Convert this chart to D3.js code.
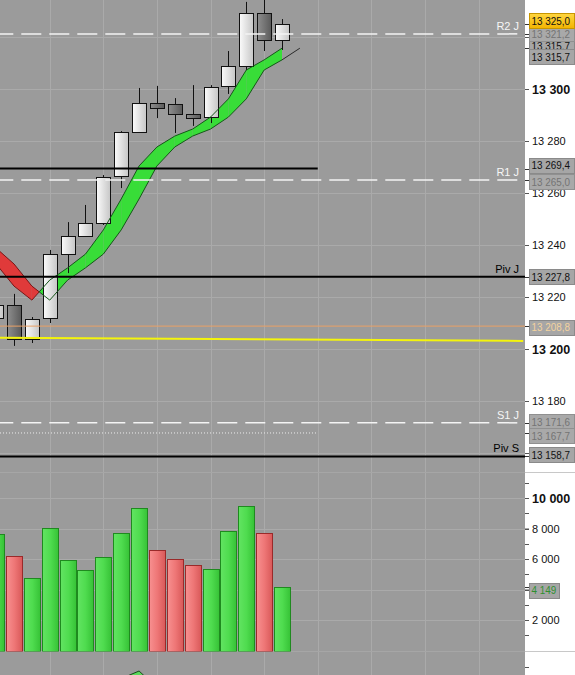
<!DOCTYPE html>
<html><head><meta charset="utf-8">
<script src="https://cdn.jsdelivr.net/npm/d3@7"></script>
<style>html,body{margin:0;padding:0;background:#fff;}svg{display:block;font-family:"Liberation Sans",Arial,sans-serif;}</style>
</head><body><svg id="c" width="575" height="675"></svg>
<script>
// ---------- DATA ----------
const candleIdx = [-1,0,1,2,3,4,5,6,7,8,9,10,11,12,13,14,15];
const opens  = [13211.9,13216.9,13203.8,13211.9,13236.5,13243.5,13248.5,13266.5,13283.5,13294.6,13294.2,13290.4,13289.2,13301.2,13308.8,13329.2,13318.8];
const highs  = [13218.5,13221.2,13212.3,13238.1,13248.8,13255.4,13266.9,13283.8,13300.4,13301.2,13296.5,13301.5,13301.5,13314.6,13333.5,13337.0,13326.9];
const lows   = [13210.0,13201.2,13202.3,13210.0,13229.2,13243.1,13247.7,13261.9,13283.3,13288.8,13283.1,13285.8,13286.9,13298.1,13307.3,13314.6,13315.0];
const closes = [13216.9,13203.8,13211.5,13236.5,13243.5,13248.5,13266.2,13283.5,13294.6,13292.7,13290.4,13288.8,13300.8,13308.8,13329.2,13318.8,13325.0];
const volumes = [7640,6220,4730,8010,5910,5260,6110,7680,9320,6590,5980,5590,5320,7810,9450,7680,4149];

const bandIdx = [-2,-1,0,1,2,3,4,5,6,7,8,9,10,11,12,13,14,15];
const bandValues = [13238.8,13232.7,13224.2,13218.8,13226.5,13231.2,13236.5,13245.8,13257.7,13270.4,13277.7,13281.9,13284.6,13289.2,13296.2,13307.3,13311.2,13315.7];

const oscIdx = [5,6,7,8,9];
const oscValues = [20,44.6,60.4,25.6,10];

// horizontal levels
const levelNames  = ["R2 J","","R1 J","Piv J","","S1 J","","Piv S"];
const levelValues = [13321.2,13269.4,13265.0,13227.8,13208.8,13171.6,13167.7,13158.7];
const levelKinds  = ["dash","solid","dash","solid","orange","dash","dot","solid"];
const levelEndIdx = [null,17,null,null,null,null,17,null];

const trendIdx = [-1,28.5];
const trendValues = [13204.3,13203.1];

// right-side value tags
const tagValues = [13315.7,13321.2,13269.4,13265.0,13227.8,13208.8,13171.6,13167.7,13158.7,13315.7,13325.0];
const tagKinds  = ["black","grey","black","grey","black","orange","grey","grey","black","black","yellow"];
const tagNudge  = [-2.2,0,-3.5,1.5,0,1,-1,3,-1.5,8.3,-3.5];

const priceGrid = [13160,13180,13200,13220,13240,13260,13280,13300,13320];
const priceTicks = [13180,13200,13220,13240,13260,13280,13300];
const volGrid = [2000,4000,6000,8000,10000];
const volTicks = [2000,6000,8000,10000];
const volMinor = [1000,2000,3000,4000,5000,6000,7000,8000,9000,10000,11000];
const volLast = 4149;

// ---------- SETUP ----------
const svg = d3.select("#c");
const plotR = 525;
const pP = {top:0,bottom:473}, pV = {top:473,bottom:651.5}, pO = {top:652,bottom:675};
const x = d3.scaleLinear().domain([0,15]).range([14,282]);
const yP = d3.scaleLinear().domain([13160,13300]).range([453,89]);
const yV = d3.scaleLinear().domain([0,10000]).range([650.5,498]);
const yO = d3.scaleLinear().domain([0,100]).range([700,652]);
const loc = d3.formatLocale({decimal:",",thousands:" ",grouping:[3],currency:["",""]});
const fTick = loc.format(",d"), fVal = loc.format(",.1f");

const defs = svg.append("defs");
function hgrad(id, stops){
  const g = defs.append("linearGradient").attr("id",id).attr("x1","0").attr("x2","1").attr("y1","0").attr("y2","0");
  stops.forEach(([o,c])=>g.append("stop").attr("offset",o).attr("stop-color",c));
}
hgrad("gLight",[["0%","#fbfbfb"],["100%","#c6c6c6"]]);
hgrad("gDark",[["0%","#8e8e8e"],["100%","#5a5a5a"]]);
hgrad("gGreen",[["0%","#62e462"],["50%","#4fdc4f"],["100%","#36c236"]]);
hgrad("gRed",[["0%","#f79090"],["50%","#ee7676"],["100%","#d85858"]]);
const yg = defs.append("linearGradient").attr("id","gYel").attr("x1","0").attr("x2","0").attr("y1","0").attr("y2","1");
yg.append("stop").attr("offset","0%").attr("stop-color","#ffd640");
yg.append("stop").attr("offset","100%").attr("stop-color","#f2b400");
[["clipP",pP],["clipV",pV],["clipO",pO]].forEach(([id,p])=>{
  defs.append("clipPath").attr("id",id).append("rect").attr("x",0).attr("y",p.top).attr("width",plotR).attr("height",p.bottom-p.top);
});

// background
svg.append("rect").attr("x",0).attr("y",0).attr("width",plotR).attr("height",675).attr("fill","#9b9b9b");

// grid
const grid = svg.append("g").attr("stroke","#aaaaaa").attr("stroke-width",1);
const vGridIdx = d3.range(2,28,3);
grid.selectAll(".vg").data(vGridIdx).join("line")
  .attr("x1",d=>Math.round(x(d))+0.5).attr("x2",d=>Math.round(x(d))+0.5).attr("y1",0).attr("y2",675);
grid.selectAll(".hg").data(priceGrid).join("line")
  .attr("x1",0).attr("x2",plotR).attr("y1",d=>Math.round(yP(d))+0.5).attr("y2",d=>Math.round(yP(d))+0.5);
grid.selectAll(".hv").data(volGrid).join("line")
  .attr("x1",0).attr("x2",plotR).attr("y1",d=>Math.round(yV(d))+0.5).attr("y2",d=>Math.round(yV(d))+0.5);
grid.selectAll(".sep").data([pV.top,pO.top]).join("line")
  .attr("x1",0).attr("x2",plotR).attr("y1",d=>d-0.5).attr("y2",d=>d-0.5).attr("stroke","#a6a6a6");

// ---------- PRICE PANE ----------
const gP = svg.append("g").attr("clip-path","url(#clipP)");
const M = i => bandValues[i - bandIdx[0]];
const bandFill = gP.append("g");
const bandLines = [];
const GREEN="#38dd38", RED="#e03a3a", GREENL="#17561a", REDL="#7a1515";
for(let i=-1;i<15;i++){
  const U0=M(i),U1=M(i+1),D0=M(i-1),D1=M(i);
  const a0=U0-D0, a1=U1-D1;
  const X0=x(i),X1=x(i+1);
  if((a0>=0)===(a1>=0)){
    const c = a0>=0?GREEN:RED;
    bandFill.append("path").attr("d",d3.line()([[X0,yP(U0)],[X1,yP(U1)],[X1,yP(D1)],[X0,yP(D0)]])).attr("fill",c);
    bandLines.push({p:[[X0,yP(U0)],[X1,yP(U1)]],c:a0>=0?GREENL:REDL});
    bandLines.push({p:[[X0,yP(D0)],[X1,yP(D1)]],c:a0>=0?GREENL:REDL});
  } else {
    const t=a0/(a0-a1);
    const xc=X0+t*(X1-X0), pc=U0+t*(U1-U0);
    bandFill.append("path").attr("d",d3.line()([[X0,yP(U0)],[xc,yP(pc)],[X0,yP(D0)]])).attr("fill",a0>=0?GREEN:RED);
    bandFill.append("path").attr("d",d3.line()([[xc,yP(pc)],[X1,yP(U1)],[X1,yP(D1)]])).attr("fill",a1>=0?GREEN:RED);
    bandLines.push({p:[[X0,yP(U0)],[xc,yP(pc)]],c:a0>=0?GREENL:REDL});
    bandLines.push({p:[[X0,yP(D0)],[xc,yP(pc)]],c:a0>=0?GREENL:REDL});
    bandLines.push({p:[[xc,yP(pc)],[X1,yP(U1)]],c:a1>=0?GREENL:REDL});
    bandLines.push({p:[[xc,yP(pc)],[X1,yP(D1)]],c:a1>=0?GREENL:REDL});
  }
}
bandLines.push({p:[[x(15),yP(M(14))],[x(16),yP(M(15))]],c:"#2a2a2a"});

// candles
const candles = candleIdx.map((d,k)=>({i:d,o:opens[k],h:highs[k],l:lows[k],c:closes[k]}));
const gC = gP.append("g");
gC.selectAll(".wick").data(candles).join("line")
  .attr("x1",d=>Math.round(x(d.i))+0.5).attr("x2",d=>Math.round(x(d.i))+0.5)
  .attr("y1",d=>yP(d.h)).attr("y2",d=>yP(d.l)).attr("stroke","#111").attr("stroke-width",1);
gC.selectAll(".body").data(candles).join("rect")
  .attr("x",d=>Math.round(x(d.i))-6.5).attr("width",14)
  .attr("y",d=>Math.round(yP(Math.max(d.o,d.c)))+0.5)
  .attr("height",d=>Math.max(1,Math.round(yP(Math.min(d.o,d.c)))-Math.round(yP(Math.max(d.o,d.c)))))
  .attr("fill",d=>d.c>=d.o?"url(#gLight)":"url(#gDark)").attr("stroke","#111").attr("stroke-width",1);

gP.append("g").selectAll("path").data(bandLines).join("path")
  .attr("d",d=>d3.line()(d.p)).attr("fill","none").attr("stroke",d=>d.c).attr("stroke-width",1);

// levels
const gL = gP.append("g");
levelValues.forEach((v,k)=>{
  const yy = yP(v);
  const kind = levelKinds[k];
  const x2 = levelEndIdx[k]!==null ? x(levelEndIdx[k]) : (kind==="dash"?519:plotR);
  const ln = gL.append("line").attr("x1",0).attr("x2",x2).attr("y1",yy).attr("y2",yy);
  if(kind==="dash") ln.attr("stroke","#f4f4f4").attr("stroke-width",1.5).attr("stroke-dasharray","20,8").attr("stroke-dashoffset",6.7);
  else if(kind==="solid") ln.attr("stroke","#000").attr("stroke-width",2);
  else if(kind==="orange") ln.attr("stroke","#e9a066").attr("stroke-width",1);
  else if(kind==="dot") ln.attr("stroke","#ececec").attr("stroke-width",1).attr("stroke-dasharray","1,2");
  if(levelNames[k]){
    gL.append("text").attr("x",519).attr("y",yy-4).attr("text-anchor","end").attr("font-size",11)
      .attr("fill",kind==="dash"?"#f6f6f6":"#000").text(levelNames[k]);
  }
});
gL.append("line").attr("x1",x(trendIdx[0])).attr("x2",x(trendIdx[1]))
  .attr("y1",yP(trendValues[0])).attr("y2",yP(trendValues[1])).attr("stroke","#f4f40c").attr("stroke-width",2);

// ---------- VOLUME PANE ----------
const gV = svg.append("g").attr("clip-path","url(#clipV)");
gV.selectAll("rect").data(candles.map((d,k)=>({i:d.i,v:volumes[k],up:d.c>=d.o}))).join("rect")
  .attr("x",d=>Math.round(x(d.i))-7.5).attr("width",16)
  .attr("y",d=>Math.round(yV(d.v))+0.5).attr("height",d=>Math.round(yV(0))-Math.round(yV(d.v)))
  .attr("fill",d=>d.up?"url(#gGreen)":"url(#gRed)").attr("stroke",d=>d.up?"#1f8a1f":"#9a2a2a").attr("stroke-width",1);

// ---------- OSC PANE ----------
const gO = svg.append("g").attr("clip-path","url(#clipO)");
const oscPts = oscIdx.map((d,k)=>[x(d),yO(oscValues[k])]);
gO.append("path").attr("d",d3.area().x(d=>d[0]).y0(yO(0)).y1(d=>d[1])(oscPts))
  .attr("fill","#5ad85a").attr("stroke","#1a4a1a").attr("stroke-width",1);

// ---------- AXIS AREA ----------
const ax = svg.append("g");
ax.append("rect").attr("x",plotR).attr("y",0).attr("width",575-plotR).attr("height",675).attr("fill","#fff");
ax.selectAll(".sep").data([pV.top,pO.top]).join("line")
  .attr("x1",plotR).attr("x2",575).attr("y1",d=>d-0.5).attr("y2",d=>d-0.5).attr("stroke","#c8c8c8");

const aP = ax.append("g").attr("transform",`translate(${plotR},0)`)
  .call(d3.axisRight(yP).tickValues(priceGrid).tickSize(4).tickPadding(3).tickFormat(d=>priceTicks.includes(d)?fTick(d):""));
const aV = ax.append("g").attr("transform",`translate(${plotR},0)`)
  .call(d3.axisRight(yV).tickValues(volGrid).tickSize(4).tickPadding(3).tickFormat(d=>volTicks.includes(d)?fTick(d):""));
[aP,aV].forEach(a=>{
  a.select(".domain").remove();
  a.selectAll(".tick line").attr("stroke","#555");
  a.selectAll(".tick text").filter(function(){return this.textContent==="";}).remove();
  a.selectAll(".tick text").attr("fill","#111").attr("font-family","Liberation Sans, Arial, sans-serif")
    .attr("font-weight",d=>(d%100===0&&d>10000)||d===10000?"bold":"normal")
    .attr("font-size",d=>(d%100===0&&d>10000)||d===10000?12.5:11);
});
ax.append("g").selectAll("line").data(volMinor).join("line")
  .attr("x1",plotR).attr("x2",plotR+4).attr("y1",d=>Math.round(yV(d))+0.5).attr("y2",d=>Math.round(yV(d))+0.5).attr("stroke","#555");
ax.append("line").attr("x1",plotR).attr("x2",plotR+4).attr("y1",667.5).attr("y2",667.5).attr("stroke","#555");

// value tags
const tagStyle = {
  black:{fill:"#a6a6a6",stroke:"#8a8a8a",text:"#111"},
  grey:{fill:"#a9a9a9",stroke:"#909090",text:"#747474"},
  orange:{fill:"#a6a6a6",stroke:"#8a8a8a",text:"#f3d29e"},
  yellow:{fill:"url(#gYel)",stroke:"#c89600",text:"#111"},
  green:{fill:"#a6a6a6",stroke:"#8a8a8a",text:"#2f8f2f"}
};
const tags = tagValues.map((v,k)=>({v,y:yP(v),kind:tagKinds[k],nudge:tagNudge[k],txt:fVal(v)}));
tags.push({v:volLast,y:yV(volLast),kind:"green",nudge:3,txt:fTick(volLast)});
const gT = ax.append("g");
tags.forEach(t=>{
  const s = tagStyle[t.kind];
  gT.append("line").attr("x1",plotR).attr("x2",plotR+4).attr("y1",Math.round(t.y)+0.5).attr("y2",Math.round(t.y)+0.5).attr("stroke","#333");
  const cy = t.y + t.nudge;
  const w = t.kind==="green"?30:45;
  gT.append("rect").attr("x",529.5).attr("y",Math.round(cy-7.5)+0.5).attr("width",w).attr("height",15)
    .attr("fill",s.fill).attr("stroke",s.stroke).attr("stroke-width",1);
  const tx = gT.append("text").attr("x",531.5).attr("y",cy).attr("dy","0.36em").attr("font-size",11.5)
    .attr("fill",s.text).text(t.txt);
  const len = tx.node().getComputedTextLength();
  tx.attr("textLength",len*0.86).attr("lengthAdjust","spacingAndGlyphs");
});
</script></body></html>
